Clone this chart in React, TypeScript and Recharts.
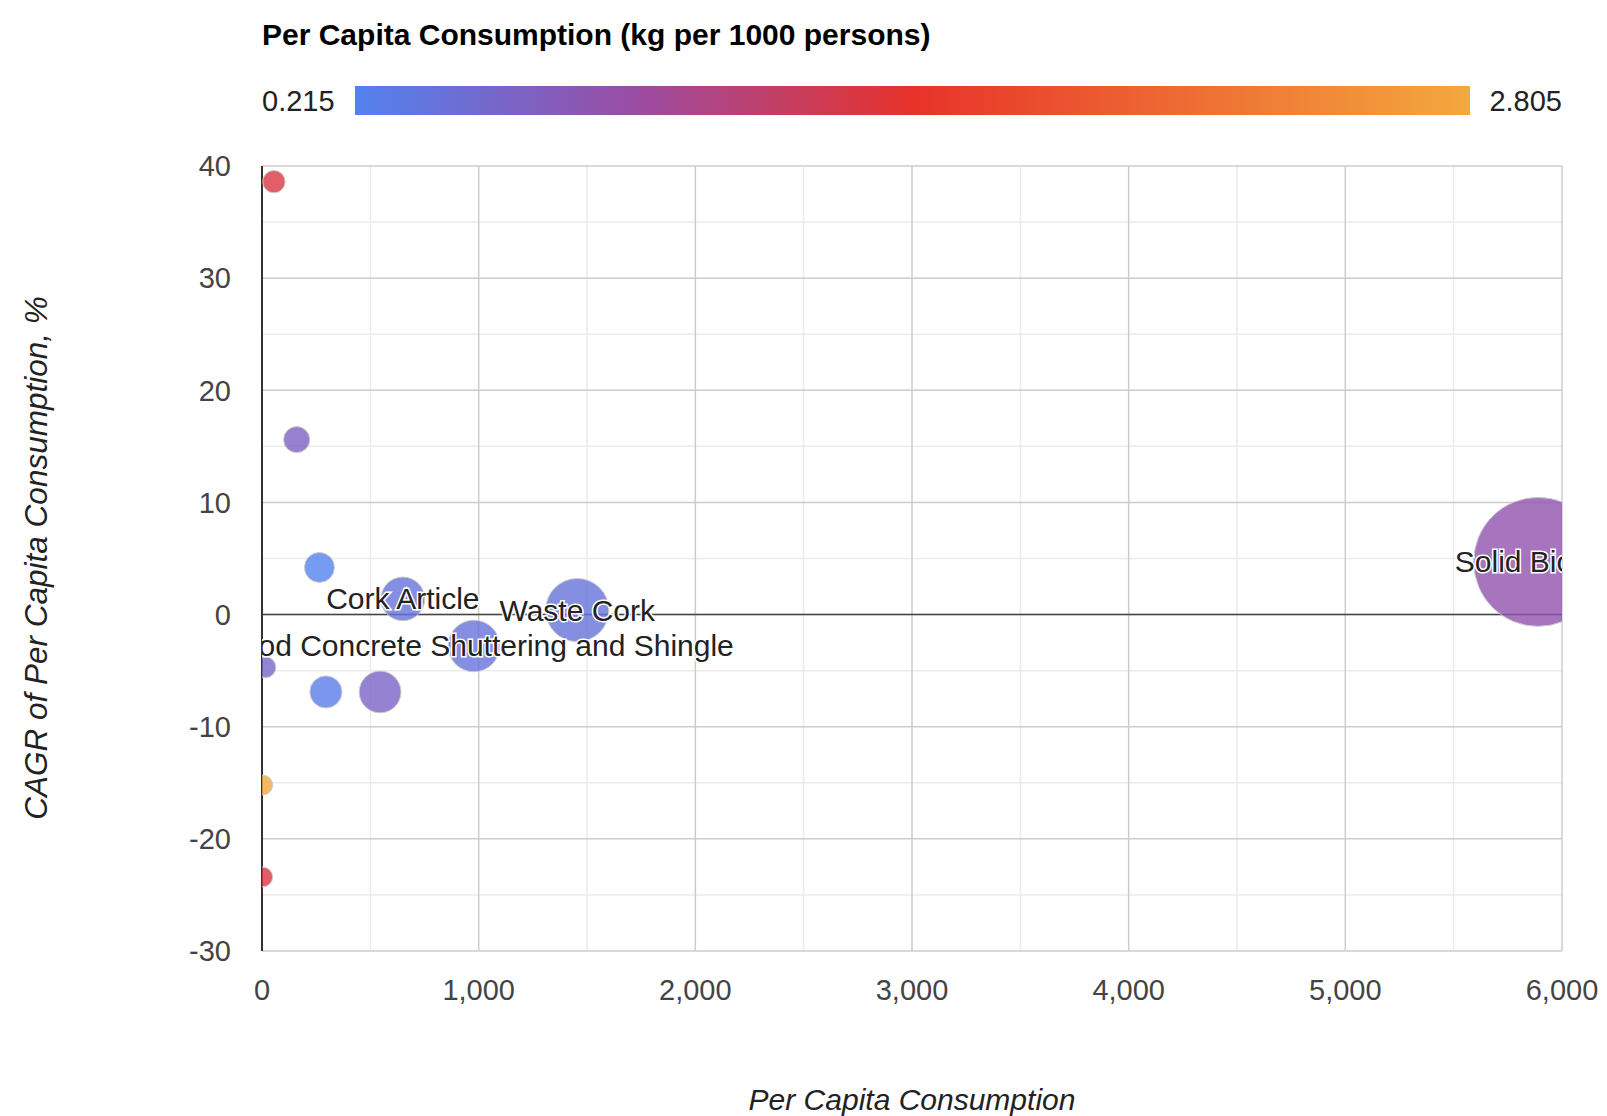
import React from "react";
import {
  ScatterChart,
  Scatter,
  XAxis,
  YAxis,
  ZAxis,
  CartesianGrid,
  ReferenceLine,
} from "recharts";

// bubble data
const labels = [
  "",
  "",
  "",
  "Cork Article",
  "Waste Cork",
  "Wood Concrete Shuttering and Shingle",
  "",
  "",
  "",
  "",
  "",
  "Solid Biofuel",
];
const consumption = [55, 160, 265, 650, 1455, 978, 16, 295, 545, 4, 4, 5890];
const cagr = [38.6, 15.6, 4.2, 1.4, 0.4, -2.8, -4.7, -6.9, -6.9, -15.2, -23.4, 4.7];
const perCapita = [1.38, 0.6, 0.215, 0.4, 0.4, 0.4, 0.55, 0.28, 0.58, 2.805, 1.4, 0.78];
const bubbleSize = [3.0, 4.1, 5.4, 11.5, 24, 16, 2.6, 6.2, 10.5, 2.3, 2.3, 100];

const xTicks = [0, 1000, 2000, 3000, 4000, 5000, 6000];
const xMinorTicks = [500, 1500, 2500, 3500, 4500, 5500];
const yTicks = [-30, -20, -10, 0, 10, 20, 30, 40];
const yMinorTicks = [-25, -15, -5, 5, 15, 25, 35];

const colorMin = 0.215;
const colorMax = 2.805;

const FONT = "Arial, 'Liberation Sans', sans-serif";

const colorStops: [number, number[]][] = [
  [0, [82, 130, 240]],
  [0.25, [154, 76, 164]],
  [0.5, [232, 50, 42]],
  [1, [244, 168, 62]],
];

function colorFor(v: number) {
  let t = (v - colorMin) / (colorMax - colorMin);
  t = Math.max(0, Math.min(1, t));
  for (let i = 1; i < colorStops.length; i++) {
    const [t1, c1] = colorStops[i];
    const [t0, c0] = colorStops[i - 1];
    if (t <= t1) {
      const f = (t - t0) / (t1 - t0);
      const c = c0.map((a, k) => Math.round(a + (c1[k] - a) * f));
      return `rgb(${c[0]},${c[1]},${c[2]})`;
    }
  }
  const last = colorStops[colorStops.length - 1][1];
  return `rgb(${last[0]},${last[1]},${last[2]})`;
}

// google draws the big bubbles first
const data = labels
  .map((label, i) => ({
    label,
    x: consumption[i],
    y: cagr[i],
    color: perCapita[i],
    size: bubbleSize[i],
  }))
  .sort((a, b) => b.size - a.size);

const Bubble = (props: any) => {
  const { cx, cy, width, payload } = props;
  if (cx == null || cy == null) return <g />;
  return (
    <circle
      cx={cx}
      cy={cy}
      r={width / 2}
      fill={colorFor(payload.color)}
      fillOpacity={0.8}
      stroke="#cccccc"
      strokeWidth={1}
    />
  );
};

const BubbleLabel = (props: any) => {
  const { cx, cy, payload } = props;
  if (!payload.label || cx == null) return <g />;
  return (
    <text
      x={cx}
      y={cy}
      textAnchor="middle"
      dominantBaseline="central"
      fontFamily={FONT}
      fontSize={30}
      fill="#222"
      stroke="#fff"
      strokeWidth={3}
      paintOrder="stroke"
    >
      {payload.label}
    </text>
  );
};

export default function App() {
  return (
    <div style={{ position: "relative", width: 1607, height: 1116, background: "#fff" }}>
      <style>{"body{margin:0}"}</style>
      <div style={{ position: "absolute", left: 0, top: 0 }}>
        <ScatterChart
          width={1607}
          height={1116}
          margin={{ top: 166, right: 45, bottom: 105, left: 200 }}
        >
          <CartesianGrid
            stroke="#ebebeb"
            strokeWidth={1.5}
            horizontalValues={yMinorTicks}
            verticalValues={xMinorTicks}
          />
          <CartesianGrid
            stroke="#cccccc"
            strokeWidth={1.5}
            horizontalValues={yTicks}
            verticalValues={xTicks}
          />
          <XAxis
            type="number"
            dataKey="x"
            domain={[0, 6000]}
            ticks={xTicks}
            allowDataOverflow
            height={60}
            axisLine={false}
            tickLine={false}
            tickSize={0}
            tickMargin={28}
            interval={0}
            tickFormatter={(v: number) => v.toLocaleString("en-US")}
            tick={{ fill: "#444", fontSize: 29, fontFamily: FONT }}
          />
          <YAxis
            type="number"
            dataKey="y"
            domain={[-30, 40]}
            ticks={yTicks}
            allowDataOverflow
            width={62}
            axisLine={false}
            tickLine={false}
            tickSize={0}
            tickMargin={31}
            interval={0}
            tick={{ fill: "#444", fontSize: 29, fontFamily: FONT }}
          />
          <ZAxis
            type="number"
            dataKey="size"
            domain={[0, 100]}
            range={[0, Math.PI * 64.5 * 64.5]}
          />
          <ReferenceLine y={0} stroke="#444" strokeWidth={1.5} />
          <ReferenceLine x={0} stroke="#333" strokeWidth={2} />
          <Scatter data={data} shape={<Bubble />} isAnimationActive={false} />
          <Scatter data={data} shape={<BubbleLabel />} isAnimationActive={false} />
        </ScatterChart>
      </div>
      <svg
        width={1607}
        height={1116}
        style={{ position: "absolute", left: 0, top: 0, pointerEvents: "none" }}
      >
        <defs>
          <linearGradient id="colorAxis" x1="0" y1="0" x2="1" y2="0">
            {colorStops.map(([t, c]) => (
              <stop key={t} offset={t} stopColor={`rgb(${c[0]},${c[1]},${c[2]})`} />
            ))}
          </linearGradient>
        </defs>
        <text x={262} y={45} fontFamily={FONT} fontSize={30} fontWeight="bold" fill="#000">
          Per Capita Consumption (kg per 1000 persons)
        </text>
        <text x={262} y={111} fontFamily={FONT} fontSize={29} fill="#222">
          {colorMin}
        </text>
        <rect x={355} y={86} width={1115} height={29} fill="url(#colorAxis)" />
        <text x={1562} y={111} textAnchor="end" fontFamily={FONT} fontSize={29} fill="#222">
          {colorMax}
        </text>
        <text
          x={912}
          y={1099}
          textAnchor="middle"
          dominantBaseline="central"
          fontFamily={FONT}
          fontSize={30}
          fontStyle="italic"
          fill="#222"
        >
          Per Capita Consumption
        </text>
        <text
          x={36}
          y={558}
          transform="rotate(-90 36 558)"
          textAnchor="middle"
          dominantBaseline="central"
          fontFamily={FONT}
          fontSize={31.5}
          fontStyle="italic"
          fill="#222"
        >
          CAGR of Per Capita Consumption, %
        </text>
      </svg>
    </div>
  );
}
